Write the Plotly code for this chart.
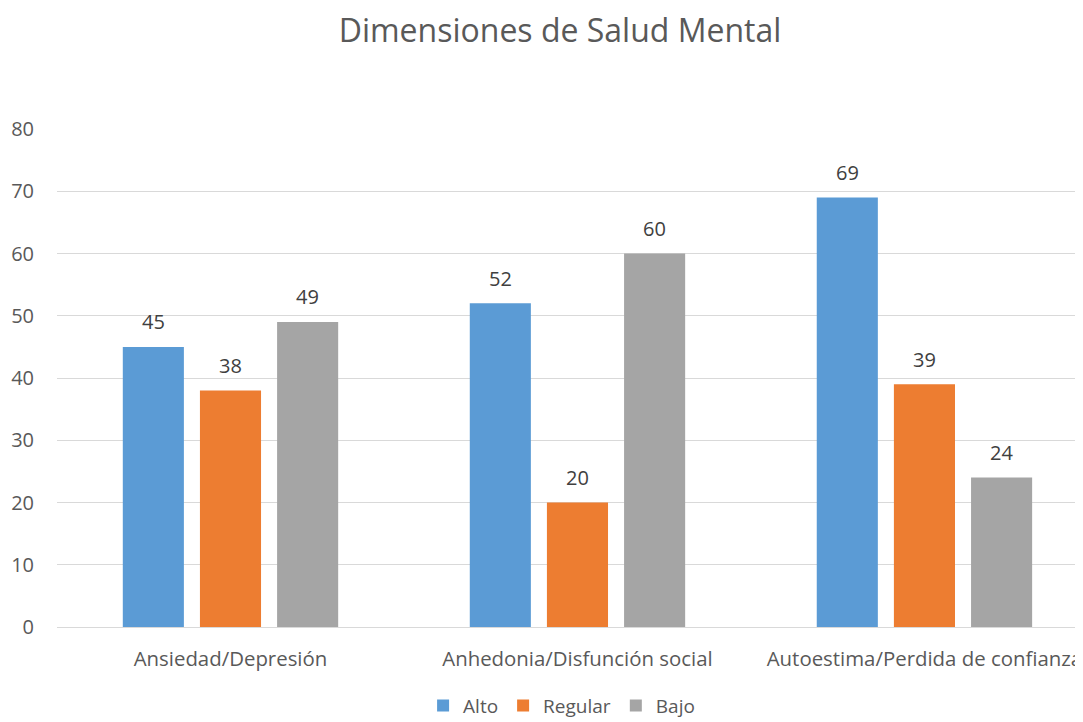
import plotly.graph_objects as go

categories = ["Ansiedad/Depresión", "Anhedonia/Disfunción social", "Autoestima/Perdida de confianza"]
series_names = ["Alto", "Regular", "Bajo"]
alto = [45, 52, 69]
regular = [38, 20, 39]
bajo = [49, 60, 24]
colors = ["#5B9BD5", "#ED7D31", "#A5A5A5"]
y_ticks = [0, 10, 20, 30, 40, 50, 60, 70, 80]

FONT = "Open Sans"
BARGAP = 0.333
fig = go.Figure()
all_series = [alto, regular, bajo]
for name, vals, col in zip(series_names, all_series, colors):
    fig.add_trace(go.Bar(
        name=name, x=list(range(len(categories))), y=vals,
        marker=dict(color=col, line=dict(width=0)),
    ))

# data labels placed above each bar, from the data values
slot = (1 - BARGAP) / len(all_series)
for si, vals in enumerate(all_series):
    for ci, v in enumerate(vals):
        fig.add_annotation(x=ci + (si - (len(all_series) - 1) / 2) * slot, y=v,
                           xref="x", yref="y", text=str(v), showarrow=False,
                           yanchor="middle", yshift=25,
                           font=dict(family=FONT, size=20, color="#404040"))

fig.update_layout(
    width=1083, height=722,
    margin=dict(l=49, r=0, t=121, b=103, autoexpand=False),
    paper_bgcolor="white", plot_bgcolor="white",
    barmode="group", bargap=BARGAP, bargroupgap=0.208,
    title=dict(text="Dimensiones de Salud Mental", x=0.5097, xanchor="center",
               y=0.969, yanchor="middle",
               font=dict(family=FONT, size=32, color="#595959")),
    font=dict(family=FONT, color="#595959", size=20),
    legend=dict(orientation="h", x=0.488, xanchor="center", y=-0.158, yanchor="middle",
                font=dict(family=FONT, size=19, color="#595959"),
                itemwidth=30, tracegroupgap=0),
    showlegend=True,
)
fig.update_xaxes(range=[-0.5, 2.48], tickvals=list(range(len(categories))), ticktext=categories,
                 showgrid=False, showline=False, zeroline=False,
                 ticks="outside", ticklen=14, tickcolor="rgba(0,0,0,0)", automargin=False,
                 tickfont=dict(family=FONT, size=20.4, color="#595959"))
fig.update_yaxes(range=[0, 80], tickvals=y_ticks, showgrid=True, gridcolor="#D9D9D9", gridwidth=1,
                 zeroline=True, zerolinecolor="#D9D9D9", zerolinewidth=1, showline=False,
                 ticks="outside", ticklen=18, tickcolor="rgba(0,0,0,0)", automargin=False,
                 tickfont=dict(family=FONT, size=20, color="#595959"))

fig.write_html("out.html")
